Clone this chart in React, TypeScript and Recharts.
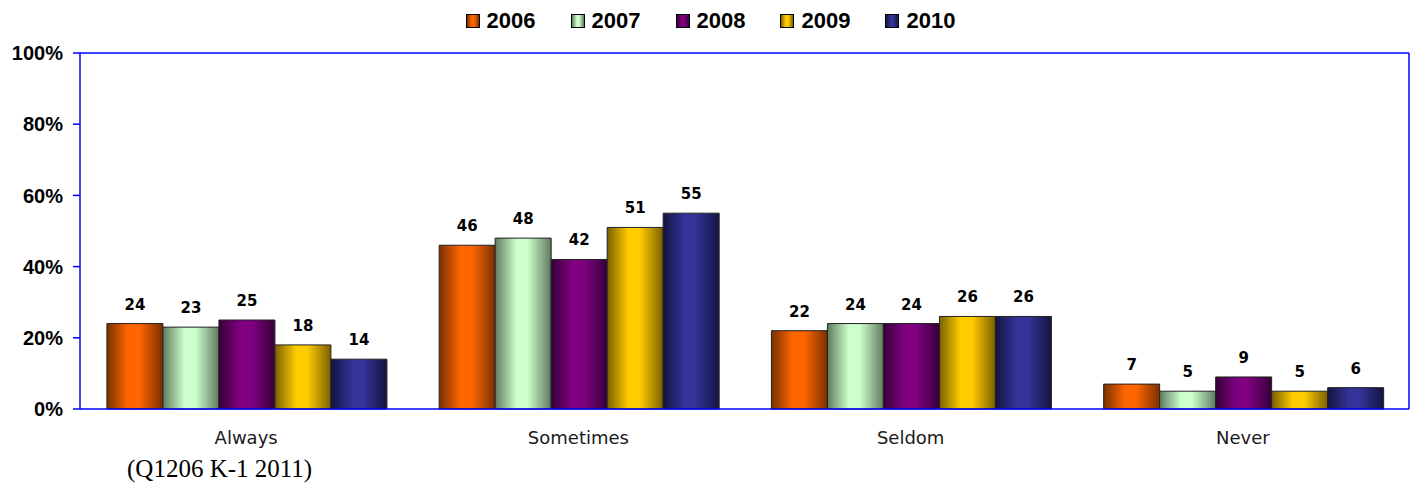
import React from 'react';
import { BarChart, Bar, XAxis, YAxis, Legend, LabelList, CartesianGrid } from 'recharts';

// answers per category, in percent
const categories = ['Always', 'Sometimes', 'Seldom', 'Never'];
const years = ['2006', '2007', '2008', '2009', '2010'];
const v2006 = [24, 46, 22, 7];
const v2007 = [23, 48, 24, 5];
const v2008 = [25, 42, 24, 9];
const v2009 = [18, 51, 26, 5];
const v2010 = [14, 55, 26, 6];
const yTicks = [0, 20, 40, 60, 80, 100];

const seriesValues = [v2006, v2007, v2008, v2009, v2010];

const colors = [
  { main: '#FF6600', dark: '#7a3000' },
  { main: '#CCFFCC', dark: '#5f7a5f' },
  { main: '#800080', dark: '#36003a' },
  { main: '#FFCC00', dark: '#7a6000' },
  { main: '#333399', dark: '#141440' },
];

const data = categories.map((name, i) => {
  const row: Record<string, string | number> = { name };
  years.forEach((y, k) => {
    row[y] = seriesValues[k][i];
  });
  return row;
});

const AXIS_BLUE = '#0000FF';

const LegendContent = () => (
  <div style={{ display: 'flex', justifyContent: 'center', alignItems: 'center', height: 30, paddingLeft: 12 }}>
    {years.map((y, k) => (
      <div key={y} style={{ display: 'flex', alignItems: 'center', marginRight: k < years.length - 1 ? 35 : 0 }}>
        <span
          style={{
            display: 'inline-block',
            width: 12,
            height: 12,
            border: '1px solid #000',
            background: `linear-gradient(to right, ${colors[k].dark}, ${colors[k].main} 40%, ${colors[k].main} 60%, ${colors[k].dark})`,
            marginRight: 7,
          }}
        />
        <span style={{ fontFamily: '"Liberation Sans", Arial, sans-serif', fontWeight: 'bold', fontSize: 22, color: '#000' }}>
          {y}
        </span>
      </div>
    ))}
  </div>
);

const App: React.FC = () => {
  return (
    <div style={{ position: 'absolute', left: 0, top: 0, width: 1416, height: 487, background: '#fff' }}>
      <BarChart
        width={1416}
        height={487}
        data={data}
        margin={{ top: 23, right: 7, bottom: 0, left: 0 }}
        barCategoryGap="8.1%"
        barGap={0}
      >
        <defs>
          {colors.map((c, k) => (
            <linearGradient key={k} id={`grad${k}`} x1="0" y1="0" x2="1" y2="0">
              <stop offset="0%" stopColor={c.dark} />
              <stop offset="38%" stopColor={c.main} />
              <stop offset="58%" stopColor={c.main} />
              <stop offset="100%" stopColor={c.dark} />
            </linearGradient>
          ))}
        </defs>
        <Legend verticalAlign="top" align="center" content={<LegendContent />} wrapperStyle={{ top: 6 }} />
        {/* top and right frame lines of the plot box */}
        <CartesianGrid
          stroke={AXIS_BLUE}
          strokeWidth={1.5}
          horizontalCoordinatesGenerator={({ offset }: any) => [offset.top]}
          verticalCoordinatesGenerator={({ offset }: any) => [offset.left + offset.width]}
        />
        <XAxis
          dataKey="name"
          height={78}
          tickLine={false}
          tickSize={0}
          tickMargin={22}
          axisLine={{ stroke: AXIS_BLUE, strokeWidth: 1.5 }}
          tick={{ fontFamily: '"DejaVu Sans", Verdana, sans-serif', fontSize: 18, fill: '#1a1a1a' }}
        />
        <YAxis
          width={80}
          domain={[0, 100]}
          ticks={yTicks}
          interval={0}
          tickSize={7}
          tickMargin={10}
          tickFormatter={(v: number) => `${v}%`}
          axisLine={{ stroke: AXIS_BLUE, strokeWidth: 1.5 }}
          tickLine={{ stroke: AXIS_BLUE, strokeWidth: 1.5 }}
          tick={{ fontFamily: '"Liberation Sans", Arial, sans-serif', fontWeight: 'bold', fontSize: 20, fill: '#000' }}
        />
        {years.map((y, k) => (
          <Bar
            key={y}
            dataKey={y}
            fill={`url(#grad${k})`}
            stroke="#222"
            strokeWidth={1}
            isAnimationActive={false}
          >
            <LabelList
              dataKey={y}
              position="top"
              offset={14}
              style={{ fontFamily: '"DejaVu Sans", Verdana, sans-serif', fontWeight: 'bold', fontSize: 15, fill: '#000' }}
            />
          </Bar>
        ))}
      </BarChart>
      <div
        style={{
          position: 'absolute',
          left: 127,
          top: 455,
          fontFamily: '"Liberation Serif", "Times New Roman", serif',
          fontSize: 25,
          color: '#000',
          whiteSpace: 'nowrap',
        }}
      >
        (Q1206 K-1 2011)
      </div>
    </div>
  );
};

export default App;
